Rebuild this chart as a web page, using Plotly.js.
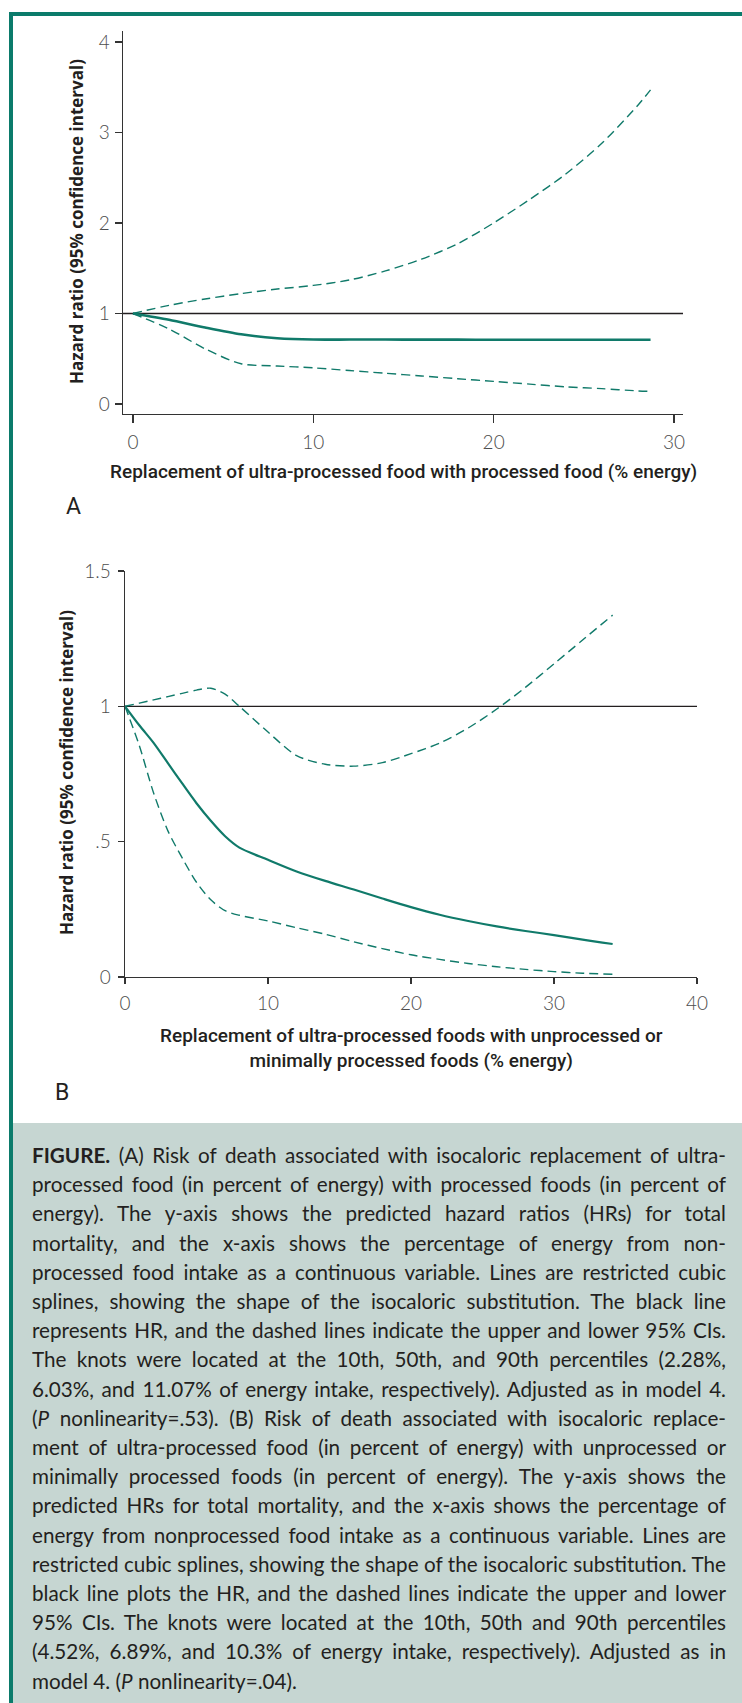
<!DOCTYPE html>
<html><head><meta charset="utf-8">
<script src="https://cdn.plot.ly/plotly-3.0.1.min.js"></script>
<style>
html,body{margin:0;padding:0;background:#fff;}
#page{position:relative;width:742px;height:1703px;overflow:hidden;background:#fff;}
#topbar{position:absolute;left:9px;top:12px;width:733px;height:4px;background:#0b7b6b;}
#leftbar{position:absolute;left:9px;top:12px;width:4px;height:1691px;background:#0b7b6b;}
#chart{position:absolute;left:0;top:0;width:742px;height:1123px;}
#capbox{position:absolute;left:13px;top:1123px;width:729px;height:580px;background:#c6d6d2;}
#cap{position:absolute;left:32px;top:1141px;transform-origin:0 0;font-family:Lato,sans-serif;font-size:21.5px;line-height:29.2px;color:#231f20;}
#cap .ln{text-align:justify;text-align-last:justify;}
#cap .ln.last{text-align:left;text-align-last:left;}
</style></head>
<body>
<div id="page">
  <div id="topbar"></div><div id="leftbar"></div>
  <div id="capbox"></div>
  <div id="chart"></div>
  <div id="cap"></div>
</div>
<script>
// ---- Panel A data ----
const xA = [0, 2, 4, 6, 8, 10, 12, 14, 16, 18, 20, 22, 24, 26, 28, 28.7];
const hrA = [1.0, 0.93, 0.845, 0.77, 0.727, 0.712, 0.712, 0.712, 0.711, 0.711, 0.71, 0.71, 0.71, 0.71, 0.71, 0.71];
const upperA = [1.0, 1.09, 1.16, 1.22, 1.27, 1.31, 1.37, 1.47, 1.60, 1.77, 2.00, 2.26, 2.54, 2.88, 3.30, 3.47];
const lowerA = [1.0, 0.83, 0.61, 0.445, 0.42, 0.40, 0.37, 0.34, 0.31, 0.28, 0.25, 0.22, 0.19, 0.17, 0.145, 0.14];
const xTicksA = [0, 10, 20, 30];
const xTickTextA = ['0', '10', '20', '30'];
const yTicksA = [0, 1, 2, 3, 4];
const yTickTextA = ['0', '1', '2', '3', '4'];

// ---- Panel B data ----
const xB = [0, 1, 2, 3, 4, 5, 6, 7, 8, 10, 12, 14, 16, 18, 20, 22, 24, 26, 28, 30, 32, 34.1];
const hrB = [1.0, 0.93, 0.865, 0.79, 0.715, 0.642, 0.577, 0.52, 0.478, 0.433, 0.39, 0.355, 0.323, 0.29, 0.258, 0.23, 0.207, 0.187, 0.17, 0.155, 0.138, 0.122];
const upperB = [1.0, 1.012, 1.024, 1.036, 1.048, 1.06, 1.067, 1.045, 1.0, 0.905, 0.818, 0.786, 0.779, 0.792, 0.825, 0.864, 0.92, 0.99, 1.07, 1.157, 1.245, 1.337];
const lowerB = [1.0, 0.855, 0.68, 0.54, 0.44, 0.35, 0.285, 0.245, 0.228, 0.207, 0.182, 0.158, 0.13, 0.105, 0.082, 0.065, 0.05, 0.038, 0.028, 0.02, 0.014, 0.01];
const xTicksB = [0, 10, 20, 30, 40];
const xTickTextB = ['0', '10', '20', '30', '40'];
const yTicksB = [0, 0.5, 1, 1.5];
const yTickTextB = ['0', '.5', '1', '1.5'];

// ---- Text ----
const yTitle = 'Hazard ratio (95% confidence interval)';
const xTitleA = 'Replacement of ultra-processed food with processed food (% energy)';
const xTitleB = 'Replacement of ultra-processed foods with unprocessed or<br>minimally processed foods (% energy)';
const capLines = [
 '<b>FIGURE.</b> (A) Risk of death associated with isocaloric replacement of ultra-',
 'processed food (in percent of energy) with processed foods (in percent of',
 'energy). The y-axis shows the predicted hazard ratios (HRs) for total',
 'mortality, and the x-axis shows the percentage of energy from non-',
 'processed food intake as a continuous variable. Lines are restricted cubic',
 'splines, showing the shape of the isocaloric substitution. The black line',
 'represents HR, and the dashed lines indicate the upper and lower 95% CIs.',
 'The knots were located at the 10th, 50th, and 90th percentiles (2.28%,',
 '6.03%, and 11.07% of energy intake, respectively). Adjusted as in model 4.',
 '(<i>P</i> nonlinearity=.53). (B) Risk of death associated with isocaloric replace-',
 'ment of ultra-processed food (in percent of energy) with unprocessed or',
 'minimally processed foods (in percent of energy). The y-axis shows the',
 'predicted HRs for total mortality, and the x-axis shows the percentage of',
 'energy from nonprocessed food intake as a continuous variable. Lines are',
 'restricted cubic splines, showing the shape of the isocaloric substitution. The',
 'black line plots the HR, and the dashed lines indicate the upper and lower',
 '95% CIs. The knots were located at the 10th, 50th and 90th percentiles',
 '(4.52%, 6.89%, and 10.3% of energy intake, respectively). Adjusted as in',
 'model 4. (<i>P</i> nonlinearity=.04).'
];

const W = 742, H = 1123;
const teal = '#107a6a';
const tickFont = {family: 'Lato, sans-serif', size: 19, color: '#4d4d4d', weight: 300};
const axBase = {showgrid: false, zeroline: false, showline: true, linecolor: '#333', linewidth: 1.4,
  ticks: 'outside', tickcolor: '#333', tickwidth: 1.3, tickfont: tickFont, fixedrange: true};

function solid(x, y, xa, ya, w) {
  return {x: x, y: y, xaxis: xa, yaxis: ya, type: 'scatter', mode: 'lines',
    line: {color: teal, width: w, shape: 'spline', smoothing: 0.8}, hoverinfo: 'skip'};
}
function dashed(x, y, xa, ya) {
  return {x: x, y: y, xaxis: xa, yaxis: ya, type: 'scatter', mode: 'lines',
    line: {color: teal, width: 1.4, dash: '9px,5px', shape: 'spline', smoothing: 0.8}, hoverinfo: 'skip'};
}

const data = [
  dashed(xA, upperA, 'x', 'y'), solid(xA, hrA, 'x', 'y', 2.6), dashed(xA, lowerA, 'x', 'y'),
  dashed(xB, upperB, 'x2', 'y2'), solid(xB, hrB, 'x2', 'y2', 2.2), dashed(xB, lowerB, 'x2', 'y2')
];

const titleFontY = {family: '"Open Sans", sans-serif', size: 17, color: '#231f20', weight: 700};
const titleFontX = {family: 'Roboto, sans-serif', size: 19, color: '#231f20', weight: 500};

const layout = {
  width: W, height: H, margin: {l: 0, r: 0, t: 0, b: 0},
  paper_bgcolor: 'rgba(0,0,0,0)', plot_bgcolor: 'rgba(0,0,0,0)', showlegend: false,
  xaxis: Object.assign({}, axBase, {domain: [123 / W, 683 / W], range: [-0.55, 30.5], anchor: 'y',
    tickvals: xTicksA, ticktext: xTickTextA, ticklen: 8, ticklabelstandoff: 3}),
  yaxis: Object.assign({}, axBase, {domain: [1 - 414 / H, 1 - 31 / H], range: [-0.11, 4.12], anchor: 'x',
    tickvals: yTicksA, ticktext: yTickTextA, ticklen: 7, ticklabelstandoff: 1}),
  xaxis2: Object.assign({}, axBase, {domain: [125 / W, 697 / W], range: [0, 40], anchor: 'y2',
    tickvals: xTicksB, ticktext: xTickTextB, ticklen: 6, ticklabelstandoff: 3}),
  yaxis2: Object.assign({}, axBase, {domain: [1 - 977 / H, 1 - 571 / H], range: [0, 1.5], anchor: 'x2',
    tickvals: yTicksB, ticktext: yTickTextB, ticklen: 6, ticklabelstandoff: 3}),
  shapes: [
    {type: 'line', xref: 'x domain', yref: 'y', x0: 0, x1: 1, y0: 1, y1: 1, layer: 'below', line: {color: '#231f20', width: 1.3}},
    {type: 'line', xref: 'x2 domain', yref: 'y2', x0: 0, x1: 1, y0: 1, y1: 1, layer: 'below', line: {color: '#231f20', width: 1.3}}
  ],
  annotations: [
    {text: yTitle, xref: 'paper', yref: 'paper', x: 77 / W, y: 1 - 222 / H, textangle: -90, showarrow: false,
      xanchor: 'center', yanchor: 'middle', font: titleFontY},
    {text: yTitle, xref: 'paper', yref: 'paper', x: 66.5 / W, y: 1 - 772.5 / H, textangle: -90, showarrow: false,
      xanchor: 'center', yanchor: 'middle', font: titleFontY},
    {text: xTitleA, xref: 'paper', yref: 'paper', x: 403 / W, y: 1 - 472 / H, showarrow: false,
      xanchor: 'center', yanchor: 'middle', font: titleFontX},
    {text: xTitleB, xref: 'paper', yref: 'paper', x: 411 / W, y: 1 - 1047.5 / H, showarrow: false,
      xanchor: 'center', yanchor: 'middle', font: titleFontX, align: 'center'},
    {text: 'A', xref: 'paper', yref: 'paper', x: 73 / W, y: 1 - 507 / H, showarrow: false,
      xanchor: 'center', yanchor: 'middle', font: {family: 'Roboto, sans-serif', size: 23, color: '#231f20'}},
    {text: 'B', xref: 'paper', yref: 'paper', x: 61.5 / W, y: 1 - 1092 / H, showarrow: false,
      xanchor: 'center', yanchor: 'middle', font: {family: 'Roboto, sans-serif', size: 23, color: '#231f20'}}
  ]
};

Plotly.newPlot('chart', data, layout, {staticPlot: true, displayModeBar: false});

// ---- Caption ----
(function () {
  const cap = document.getElementById('cap');
  const meas = document.createElement('span');
  meas.style.cssText = 'position:absolute;visibility:hidden;white-space:nowrap;';
  cap.appendChild(meas);
  let maxW = 0;
  capLines.forEach(function (l) { meas.innerHTML = l; maxW = Math.max(maxW, meas.getBoundingClientRect().width); });
  cap.removeChild(meas);
  const target = 694;
  const w = Math.max(maxW + 2, target);
  cap.style.width = w + 'px';
  cap.style.transform = 'scaleX(' + (target / w) + ')';
  capLines.forEach(function (l, i) {
    const d = document.createElement('div');
    d.className = 'ln' + (i === capLines.length - 1 ? ' last' : '');
    d.innerHTML = l;
    cap.appendChild(d);
  });
})();
</script>
</body></html>
